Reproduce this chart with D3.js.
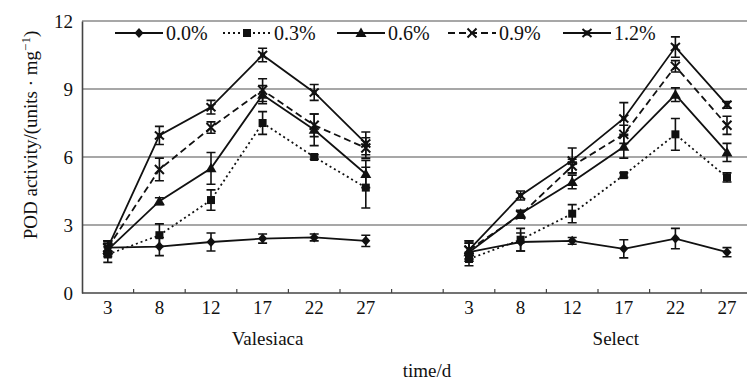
<!DOCTYPE html>
<html>
<head>
<meta charset="utf-8">
<script src="https://cdn.jsdelivr.net/npm/d3@7"></script>
<style>
  body { margin: 0; background: #fff; }
  text { font-family: "Liberation Serif", "Times New Roman", serif; fill: #111; }
</style>
</head>
<body>
<div id="chart"></div>
<script>
// sampling days and treatments
const days = ["3", "8", "12", "17", "22", "27"];
const cultivars = ["Valesiaca", "Select"];
const levels = ["0.0%", "0.3%", "0.6%", "0.9%", "1.2%"];

// Valesiaca means and error (±)
const val00 = [2.0, 2.05, 2.25, 2.4, 2.45, 2.3];
const val03 = [1.7, 2.55, 4.1, 7.5, 6.0, 4.65];
const val06 = [1.9, 4.05, 5.5, 8.75, 7.2, 5.25];
const val09 = [2.0, 5.45, 7.3, 8.95, 7.4, 6.4];
const val12 = [2.0, 6.95, 8.2, 10.5, 8.85, 6.6];
const valErr00 = [0.3, 0.4, 0.4, 0.2, 0.15, 0.25];
const valErr03 = [0.35, 0.5, 0.45, 0.5, 0.1, 0.9];
const valErr06 = [0.3, 0.15, 0.7, 0.4, 0.7, 0.6];
const valErr09 = [0.3, 0.5, 0.25, 0.5, 0.5, 0.45];
const valErr12 = [0.3, 0.4, 0.3, 0.3, 0.35, 0.5];

// Select means and error (±)
const sel00 = [1.8, 2.25, 2.3, 1.95, 2.4, 1.8];
const sel03 = [1.5, 2.35, 3.5, 5.2, 7.0, 5.1];
const sel06 = [1.8, 3.5, 4.9, 6.45, 8.75, 6.2];
const sel09 = [1.9, 3.45, 5.6, 7.0, 10.0, 7.4];
const sel12 = [1.9, 4.3, 5.85, 7.7, 10.85, 8.3];
const selErr00 = [0.4, 0.4, 0.15, 0.4, 0.45, 0.2];
const selErr03 = [0.3, 0.5, 0.4, 0.1, 0.7, 0.2];
const selErr06 = [0.4, 0.15, 0.3, 0.5, 0.3, 0.4];
const selErr09 = [0.4, 0.15, 0.3, 0.4, 0.25, 0.4];
const selErr12 = [0.4, 0.2, 0.55, 0.7, 0.45, 0.15];

const yTicks = [0, 3, 6, 9, 12];

const means = {
  Valesiaca: [val00, val03, val06, val09, val12],
  Select: [sel00, sel03, sel06, sel09, sel12]
};
const errs = {
  Valesiaca: [valErr00, valErr03, valErr06, valErr09, valErr12],
  Select: [selErr00, selErr03, selErr06, selErr09, selErr12]
};

// line style per treatment
const dashes = [null, "2,3", null, "7,4", null];
const markers = ["diamond", "square", "triangle", "times", "star"];

const W = 747, H = 381;
const margin = { top: 21, left: 82 };
const plotBottom = 293;

const svg = d3.select("#chart").append("svg")
  .attr("width", W)
  .attr("height", H);

// x: 13 slots, one empty slot between the two cultivars
const slots = [];
cultivars.forEach((c, i) => {
  if (i > 0) slots.push("gap");
  days.forEach(d => slots.push(c + "|" + d));
});

const x = d3.scaleBand()
  .domain(slots)
  .range([margin.left, margin.left + 13 * 51.6])
  .padding(0);

const y = d3.scaleLinear()
  .domain([0, 12])
  .range([plotBottom, margin.top]);

const cx = (c, d) => x(c + "|" + d) + x.bandwidth() / 2;

// grid lines + top border
svg.append("g")
  .selectAll("line")
  .data(yTicks.filter(t => t > 0))
  .join("line")
  .attr("x1", margin.left)
  .attr("x2", W)
  .attr("y1", d => y(d))
  .attr("y2", d => y(d))
  .attr("stroke", "#8a8a8a")
  .attr("stroke-width", 1.6);

// y axis
const yAxis = svg.append("g")
  .attr("transform", `translate(${margin.left},0)`)
  .call(d3.axisLeft(y).tickValues(yTicks).tickSize(0).tickPadding(9));
yAxis.select(".domain").attr("stroke", "#444").attr("stroke-width", 1.6);
yAxis.selectAll("text")
  .style("font-family", "Liberation Serif, serif")
  .style("font-size", "19px")
  .attr("fill", "#111");

// x axis labels
const xAxis = svg.append("g")
  .attr("transform", `translate(0,${plotBottom})`)
  .call(d3.axisBottom(x)
    .tickSize(0)
    .tickPadding(8)
    .tickFormat(d => d === "gap" ? "" : d.split("|")[1]));
xAxis.select(".domain").remove();
xAxis.selectAll("text")
  .style("font-family", "Liberation Serif, serif")
  .style("font-size", "19px")
  .attr("fill", "#111");

svg.append("line")
  .attr("x1", margin.left).attr("x2", W)
  .attr("y1", plotBottom).attr("y2", plotBottom)
  .attr("stroke", "#444").attr("stroke-width", 1.6);

// inward tick marks at slot boundaries
svg.append("g")
  .selectAll("line")
  .data(slots.slice(0, -1))
  .join("line")
  .attr("x1", d => x(d) + x.bandwidth())
  .attr("x2", d => x(d) + x.bandwidth())
  .attr("y1", plotBottom)
  .attr("y2", plotBottom - 4)
  .attr("stroke", "#444")
  .attr("stroke-width", 1.2);

// cultivar names and axis titles
svg.append("text").attr("x", cx("Valesiaca", "17") + 5).attr("y", 345)
  .attr("text-anchor", "middle").style("font-size", "19px").text("Valesiaca");
svg.append("text").attr("x", cx("Select", "17") - 8).attr("y", 345)
  .attr("text-anchor", "middle").style("font-size", "19px").text("Select");
svg.append("text").attr("x", 427).attr("y", 377)
  .attr("text-anchor", "middle").style("font-size", "19px").text("time/d");

const yTitle = svg.append("text")
  .attr("transform", `translate(37,${(margin.top + plotBottom) / 2 - 22}) rotate(-90)`)
  .attr("text-anchor", "middle")
  .style("font-size", "19px");
yTitle.append("tspan").text("POD activity/(units · mg");
yTitle.append("tspan").attr("baseline-shift", "super").style("font-size", "13px").text("−1");
yTitle.append("tspan").text(")");

// marker drawing
function drawMarker(g, type, px, py) {
  if (type === "diamond") {
    g.append("path")
      .attr("d", `M${px},${py - 5}L${px + 4.5},${py}L${px},${py + 5}L${px - 4.5},${py}Z`)
      .attr("fill", "#111");
  } else if (type === "square") {
    g.append("rect")
      .attr("x", px - 4).attr("y", py - 4).attr("width", 8).attr("height", 8)
      .attr("fill", "#111");
  } else if (type === "triangle") {
    g.append("path")
      .attr("d", `M${px},${py - 5.5}L${px + 5.5},${py + 4}L${px - 5.5},${py + 4}Z`)
      .attr("fill", "#111");
  } else if (type === "times") {
    g.append("path")
      .attr("d", `M${px - 4.5},${py - 4.5}L${px + 4.5},${py + 4.5}M${px - 4.5},${py + 4.5}L${px + 4.5},${py - 4.5}`)
      .attr("stroke", "#111").attr("stroke-width", 2);
  } else {
    g.append("path")
      .attr("d", `M${px - 4.5},${py - 4}L${px + 4.5},${py + 4}M${px - 4.5},${py + 4}L${px + 4.5},${py - 4}`)
      .attr("stroke", "#111").attr("stroke-width", 2);
    g.append("rect")
      .attr("x", px - 2.5).attr("y", py - 2.5).attr("width", 5).attr("height", 5)
      .attr("fill", "#111");
  }
}

// series lines, error bars and markers
const line = d3.line().x(d => d.x).y(d => d.y);
const capW = 4.5;

cultivars.forEach(c => {
  levels.forEach((lv, i) => {
    const pts = days.map((d, j) => ({
      x: cx(c, d),
      y: y(means[c][i][j]),
      lo: y(means[c][i][j] - errs[c][i][j]),
      hi: y(means[c][i][j] + errs[c][i][j])
    }));
    const g = svg.append("g");
    g.append("path")
      .datum(pts)
      .attr("d", line)
      .attr("fill", "none")
      .attr("stroke", "#111")
      .attr("stroke-width", 1.8)
      .attr("stroke-dasharray", dashes[i]);

    g.selectAll("path.err")
      .data(pts)
      .join("path")
      .attr("class", "err")
      .attr("d", p => `M${p.x},${p.lo}V${p.hi}M${p.x - capW},${p.lo}H${p.x + capW}M${p.x - capW},${p.hi}H${p.x + capW}`)
      .attr("fill", "none")
      .attr("stroke", "#111")
      .attr("stroke-width", 1.6);

    pts.forEach(p => drawMarker(g, markers[i], p.x, p.y));
  });
});

// legend
const legendX = [115, 223, 337, 448, 563];
const legendY = 33;
levels.forEach((lv, i) => {
  const g = svg.append("g");
  const x0 = legendX[i];
  g.append("line")
    .attr("x1", x0).attr("x2", x0 + 48)
    .attr("y1", legendY).attr("y2", legendY)
    .attr("stroke", "#111")
    .attr("stroke-width", 1.8)
    .attr("stroke-dasharray", dashes[i]);
  drawMarker(g, markers[i], x0 + 24, legendY);
  g.append("text")
    .attr("x", x0 + 51)
    .attr("y", legendY + 7)
    .style("font-size", "20px")
    .text(lv);
});
</script>
</body>
</html>
